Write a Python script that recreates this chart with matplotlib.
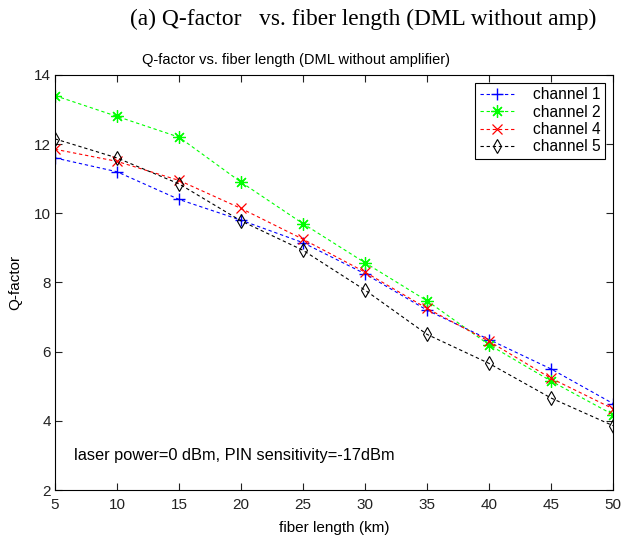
import matplotlib
matplotlib.use("Agg")
import matplotlib.pyplot as plt

OUTPUT_FILE = "out.png"

# fiber length (km)
fiber_length = [5, 10, 15, 20, 25, 30, 35, 40, 45, 50]

# Q-factor per channel
ch1 = [11.6, 11.2, 10.4, 9.8, 9.15, 8.25, 7.2, 6.35, 5.5, 4.5]
ch2 = [13.4, 12.8, 12.2, 10.9, 9.7, 8.57, 7.47, 6.2, 5.15, 4.18]
ch4 = [11.85, 11.5, 10.95, 10.14, 9.25, 8.3, 7.25, 6.3, 5.23, 4.35]
ch5 = [12.15, 11.6, 10.85, 9.78, 8.93, 7.78, 6.5, 5.66, 4.66, 3.86]

plt.rcParams['font.family'] = ['Liberation Sans', 'DejaVu Sans']


def visualize():
    fig = plt.figure(figsize=(6.22, 5.36), dpi=100)
    ax = fig.add_axes([0.0884, 0.0858, 0.8971, 0.7745])

    lw = 0.8
    dash = (3, 2.5)
    ax.plot(fiber_length, ch1, linestyle='--', dashes=dash, color='blue', marker='+',
            markersize=9, markeredgewidth=1.0, linewidth=lw, label='channel 1')
    # MATLAB-style asterisk: 8 spokes
    ax.plot(fiber_length, ch2, linestyle='--', dashes=dash, color='#00ff00',
            marker=(8, 2, 0), markersize=9, markeredgewidth=0.9, linewidth=lw,
            label='channel 2')
    ax.plot(fiber_length, ch4, linestyle='--', dashes=dash, color='red', marker='x',
            markersize=7, markeredgewidth=0.9, linewidth=lw, label='channel 4')
    ax.plot(fiber_length, ch5, linestyle='--', dashes=dash, color='black', marker='d',
            markersize=7.5, markerfacecolor='none', markeredgewidth=0.8,
            linewidth=lw, label='channel 5')

    ax.set_xlim(5, 50)
    ax.set_ylim(2, 14)
    ax.set_xticks(range(5, 55, 5))
    ax.set_yticks(range(2, 16, 2))
    ax.tick_params(direction='in', top=True, right=True, labelsize=11,
                   length=5, width=0.8, colors='#222222')
    ax.tick_params(axis='x', pad=6)
    ax.tick_params(axis='y', pad=3)

    ax.set_xlabel('fiber length (km)', fontsize=11, labelpad=6)
    ax.set_ylabel('Q-factor', fontsize=11, labelpad=8)
    ax.set_title('Q-factor vs. fiber length (DML without amplifier)',
                 fontsize=10.5, pad=8, x=0.432)

    ax.text(6.5, 3.0, 'laser power=0 dBm, PIN sensitivity=-17dBm',
            fontsize=11.8, va='center', ha='left')

    leg = ax.legend(loc='upper right', fontsize=11.2, fancybox=False,
                    edgecolor='black', framealpha=1, handlelength=2.2,
                    borderpad=0.3, labelspacing=0.15, handletextpad=1.2,
                    borderaxespad=0.5)
    leg.get_frame().set_linewidth(0.8)

    fig.text(0.584, 0.963, '(a) Q-factor   vs. fiber length (DML without amp)',
             fontsize=16.8, family=['Liberation Serif', 'DejaVu Serif'],
             ha='center', va='center')

    fig.savefig(OUTPUT_FILE, dpi=100)
    plt.close(fig)


if __name__ == "__main__":
    visualize()
